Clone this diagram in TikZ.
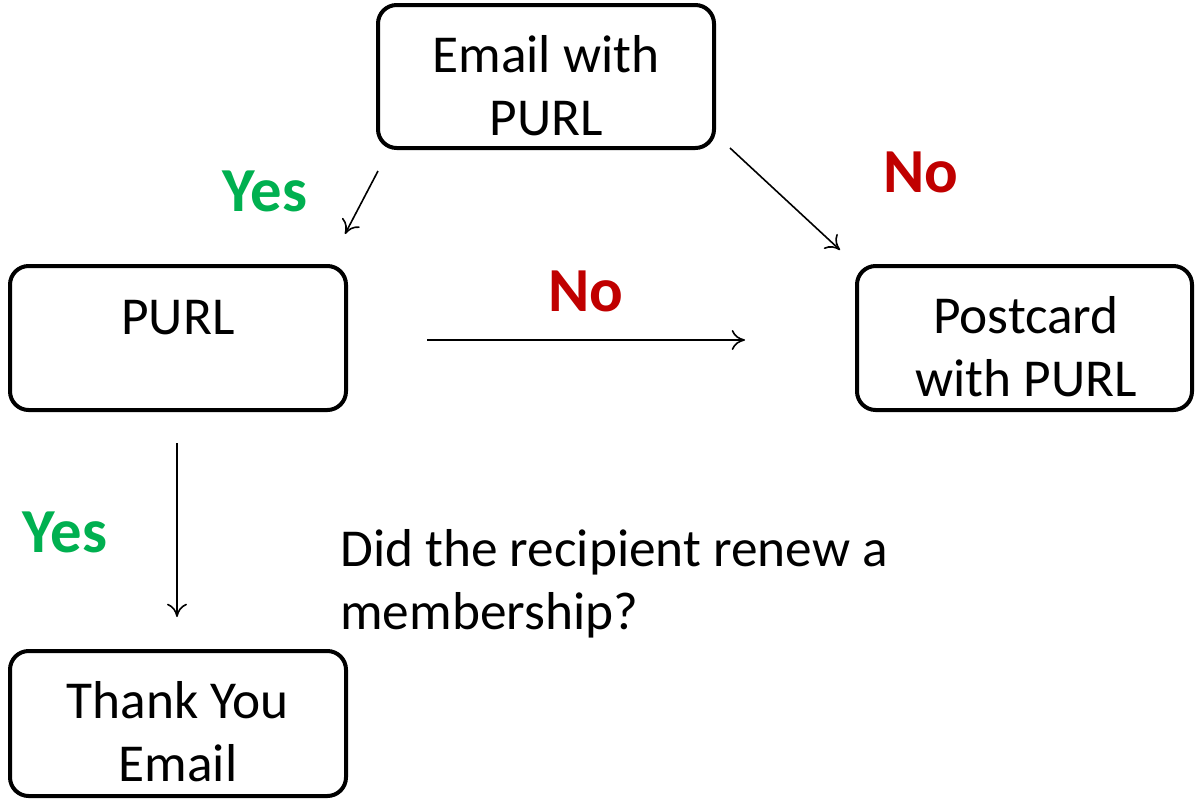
\documentclass[tikz,border=0pt]{standalone}
\usepackage{fontspec}
\setmainfont{Carlito}
\usetikzlibrary{arrows.meta}
\definecolor{yesgreen}{RGB}{0,176,80}
\definecolor{nored}{RGB}{192,0,0}
\begin{document}
\begin{tikzpicture}[x=0.75pt,y=-0.75pt,
  box/.style={draw=black,line width=3pt,rounded corners=14pt,inner sep=0pt},
  txt/.style={font=\fontsize{40}{48}\selectfont,anchor=base,inner sep=0pt},
  yeslbl/.style={font=\fontsize{47}{52}\selectfont\bfseries,text=yesgreen,anchor=base,inner sep=0pt},
  nolbl/.style={font=\fontsize{47}{52}\selectfont\bfseries,text=nored,anchor=base,inner sep=0pt},
  arr/.style={draw=black,line width=1.2pt,-{To[length=10pt,width=15pt]}}]
\path[use as bounding box,fill=white] (0,0) rectangle (1195,800);
% boxes
\draw[box] (378,5) rectangle (714,148);
\draw[box] (10,266) rectangle (346,410);
\draw[box] (857,266) rectangle (1192,410);
\draw[box] (10,651) rectangle (346,796);
% texts
\node[txt] (e1) at (546,72) {Email with};
\node[txt] (e2) at (546,135) {PURL};
\node[txt] (p1) at (178,334) {PURL};
\node[txt] (c1) at (1026,333) {Postcard};
\node[txt] (c2) at (1026,396) {with PURL};
\node[txt] (t1) at (178,718) {Thank You};
\node[txt] (t2) at (178,781) {Email};
\node[txt,anchor=base west] (q1) at (340,566) {Did the recipient renew a};
\node[txt,anchor=base west] (q2) at (340,629) {membership?};
% labels
\node[yeslbl] (y1) at (265,211) {Yes};
\node[yeslbl] (y2) at (65,552) {Yes};
\node[nolbl] (n1) at (921,192) {No};
\node[nolbl] (n2) at (586,311) {No};
% arrows
\coordinate (a1s) at (378,171); \coordinate (a1e) at (345,234);
\coordinate (a2s) at (730,148); \coordinate (a2e) at (840,250);
\coordinate (a3s) at (427,340); \coordinate (a3e) at (745,340);
\coordinate (a4s) at (177,443); \coordinate (a4e) at (177,617);
\draw[arr] (a1s) -- (a1e);
\draw[arr] (a2s) -- (a2e);
\draw[arr] (a3s) -- (a3e);
\draw[arr] (a4s) -- (a4e);
\end{tikzpicture}
\end{document}
